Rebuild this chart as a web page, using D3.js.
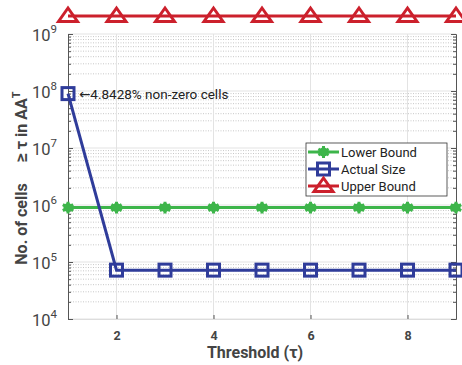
<!DOCTYPE html>
<html>
<head>
<meta charset="utf-8">
<script src="https://cdn.jsdelivr.net/npm/d3@7"></script>
<style>
  body { margin: 0; background: #fff; }
  text { font-family: Roboto, "DejaVu Sans", sans-serif; }
</style>
</head>
<body>
<script>
// data
const thresholds = [1, 2, 3, 4, 5, 6, 7, 8, 9];
const lowerBound = [9e5, 9e5, 9e5, 9e5, 9e5, 9e5, 9e5, 9e5, 9e5];
const actualSize = [9e7, 7.2e4, 7.2e4, 7.2e4, 7.2e4, 7.2e4, 7.2e4, 7.2e4, 7.2e4];
const upperBound = [2.07e9, 2.07e9, 2.07e9, 2.07e9, 2.07e9, 2.07e9, 2.07e9, 2.07e9, 2.07e9];
const xTicks = [2, 4, 6, 8];
const yExponents = [4, 5, 6, 7, 8, 9];
const seriesNames = ["Lower Bound", "Actual Size", "Upper Bound"];
const noteText = "\u21904.8428% non-zero cells";

const width = 462, height = 365;
const mLeft = 68, mRight = 456, mTop = 34, mBottom = 319;
const green = "#3db54a", blue = "#2f3c9a", red = "#cc202c";
const axisColor = "#555";

const svg = d3.select("body").append("svg").attr("width", width).attr("height", height);

let x = d3.scaleLinear().domain([1, 9]).range([mLeft, mRight]);
let y = d3.scaleLog().domain([1e4, 1e9]).range([mBottom, mTop]);

// minor grid (dotted)
let minors = [];
for (let e = 4; e < 9; e++) for (let m = 2; m <= 9; m++) minors.push(m * Math.pow(10, e));
svg.append("g").selectAll("line").data(minors).enter().append("line")
  .attr("x1", mLeft).attr("x2", mRight)
  .attr("y1", d => y(d)).attr("y2", d => y(d))
  .attr("stroke", "#c8c8c8").attr("stroke-width", 1).attr("stroke-dasharray", "1,1.5");

// major grid
const majors = yExponents.map(e => Math.pow(10, e));
svg.append("g").selectAll("line").data(majors).enter().append("line")
  .attr("x1", mLeft).attr("x2", mRight)
  .attr("y1", d => y(d)).attr("y2", d => y(d))
  .attr("stroke", "#e3e3e3").attr("stroke-width", 1);
svg.append("g").selectAll("line").data(xTicks).enter().append("line")
  .attr("x1", d => x(d)).attr("x2", d => x(d))
  .attr("y1", mTop).attr("y2", mBottom)
  .attr("stroke", "#e3e3e3").attr("stroke-width", 1);

// axes
let xAxis = svg.append("g").attr("transform", `translate(0,${mBottom})`)
  .call(d3.axisBottom(x).tickValues(xTicks).tickSize(-4).tickPadding(12).tickFormat(d3.format("d")));
xAxis.select(".domain").attr("stroke", "#ddd");
xAxis.selectAll(".tick line").attr("stroke", axisColor);
xAxis.selectAll("text").attr("fill", "#444").attr("font-size", 12.5).attr("font-weight", "bold").attr("font-family", "Roboto");

let yAxis = svg.append("g").attr("transform", `translate(${mLeft},0)`)
  .call(d3.axisLeft(y).tickValues(majors).tickSize(-5).tickFormat(""));
yAxis.select(".domain").attr("stroke", axisColor);
yAxis.selectAll(".tick line").attr("stroke", axisColor);
let yMinor = svg.append("g").attr("transform", `translate(${mLeft},0)`)
  .call(d3.axisLeft(y).tickValues(minors).tickSize(-3).tickFormat(""));
yMinor.select(".domain").remove();
yMinor.selectAll(".tick line").attr("stroke", axisColor);

let yRight = svg.append("g").attr("transform", `translate(${mRight},0)`)
  .call(d3.axisRight(y).tickValues(majors).tickSize(-5).tickFormat(""));
yRight.select(".domain").attr("stroke", axisColor);
yRight.selectAll(".tick line").attr("stroke", axisColor);
let yRightMinor = svg.append("g").attr("transform", `translate(${mRight},0)`)
  .call(d3.axisRight(y).tickValues(minors).tickSize(-3).tickFormat(""));
yRightMinor.select(".domain").remove();
yRightMinor.selectAll(".tick line").attr("stroke", axisColor);

// y tick labels 10^n
yExponents.forEach(e => {
  let t = svg.append("text").attr("x", 57).attr("y", y(Math.pow(10, e)) + 7)
    .attr("text-anchor", "end").attr("fill", "#444");
  t.append("tspan").attr("font-size", 16.5).text("10");
  t.append("tspan").attr("font-size", 11.5).attr("dy", -8).text(e);
});

// axis titles
svg.append("text").attr("x", 255).attr("y", 358).attr("text-anchor", "middle")
  .attr("font-size", 16).attr("font-weight", "bold").attr("fill", "#444")
  .text("Threshold (\u03C4)");

svg.append("text").attr("transform", "translate(27,224) rotate(-90)")
  .attr("text-anchor", "middle").attr("font-size", 16).attr("font-weight", "bold").attr("fill", "#444")
  .text("No. of cells");
let yl = svg.append("text").attr("transform", "translate(27,127) rotate(-90)")
  .attr("text-anchor", "middle").attr("font-size", 16).attr("font-weight", "bold").attr("fill", "#444");
yl.append("tspan").attr("font-size", 18).text("\u2265");
yl.append("tspan").text(" \u03C4 in AA");
yl.append("tspan").attr("dy", -7).attr("font-size", 11).text("T");

// markers
const star = d3.symbol().type(d3.symbolAsterisk).size(100);
function drawSeries(vals, color, kind) {
  let line = d3.line().x((d, i) => x(thresholds[i])).y(d => y(d));
  svg.append("path").datum(vals).attr("d", line).attr("fill", "none")
    .attr("stroke", color).attr("stroke-width", 3);
  let g = svg.append("g");
  vals.forEach((v, i) => drawMarker(g, x(thresholds[i]), y(v), color, kind));
}
function drawMarker(g, cx, cy, color, kind) {
  if (kind === "star") {
    g.append("circle").attr("cx", cx).attr("cy", cy).attr("r", 4.5).attr("fill", color);
    g.append("path").attr("d", star).attr("transform", `translate(${cx},${cy})`)
      .attr("fill", "none").attr("stroke", color).attr("stroke-width", 3);
  } else if (kind === "square") {
    g.append("rect").attr("x", cx - 6).attr("y", cy - 6).attr("width", 12).attr("height", 12)
      .attr("fill", "none").attr("stroke", color).attr("stroke-width", 3);
  } else {
    g.append("path").attr("d", `M${cx},${cy - 8}L${cx + 9.5},${cy + 5.5}L${cx - 9.5},${cy + 5.5}Z`)
      .attr("fill", "none").attr("stroke", color).attr("stroke-width", 3).attr("stroke-linejoin", "miter");
  }
}
drawSeries(lowerBound, green, "star");
drawSeries(actualSize, blue, "square");
drawSeries(upperBound, red, "tri");

// annotation
svg.append("text").attr("x", 79).attr("y", y(actualSize[0]) + 5)
  .attr("font-size", 13.5).attr("fill", "#222").text(noteText);

// legend
const lg = svg.append("g").attr("transform", "translate(306,143)");
lg.append("rect").attr("width", 141).attr("height", 53).attr("fill", "#fff").attr("stroke", "#333").attr("stroke-width", 0.8);
const kinds = ["star", "square", "tri"], colors = [green, blue, red];
seriesNames.forEach((name, i) => {
  let cy = 9 + i * 17;
  lg.append("line").attr("x1", 2).attr("x2", 33).attr("y1", cy).attr("y2", cy)
    .attr("stroke", colors[i]).attr("stroke-width", 3);
  drawMarker(lg, 17.5, cy, colors[i], kinds[i]);
  lg.append("text").attr("x", 35).attr("y", cy + 4.5).attr("font-size", 13).attr("fill", "#222").text(name);
});
</script>
</body>
</html>
